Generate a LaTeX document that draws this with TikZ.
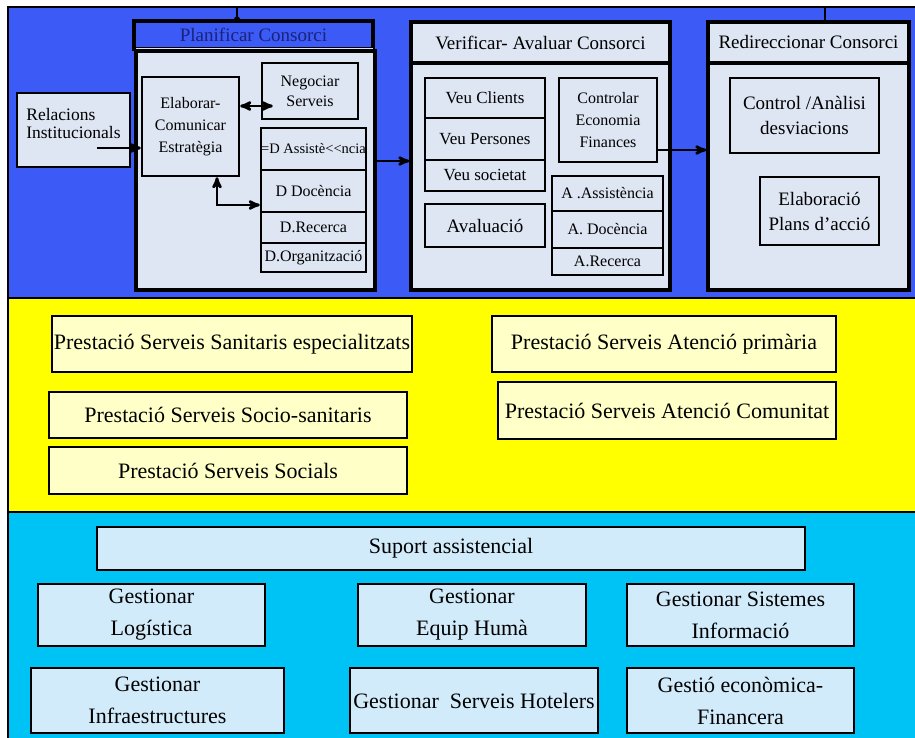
\documentclass[tikz,border=0pt]{standalone}
\usepackage{fontspec}
\setmainfont{Liberation Serif}
\usepackage{xcolor}
\usetikzlibrary{arrows}
\definecolor{fonsblau}{RGB}{60,90,245}
\definecolor{fonsgroc}{RGB}{255,255,0}
\definecolor{fonscel}{RGB}{0,195,245}
\definecolor{caixagris}{RGB}{222,230,243}
\definecolor{caixagroga}{RGB}{255,255,200}
\definecolor{caixacel}{RGB}{210,235,250}
\definecolor{titolblau}{RGB}{25,35,120}

\begin{document}
\begin{tikzpicture}[x=1pt,y=-1pt,>=stealth',
  tbox/.style={draw,fill=caixagris,line width=2.4pt,align=center,inner sep=0pt,font=\fontsize{16}{22}\selectfont},
  marc/.style={draw,fill=caixagris,line width=3.2pt,align=center,inner sep=0pt,font=\fontsize{19}{20}\selectfont},
  ybox/.style={draw,fill=caixagroga,line width=2.6pt,align=center,inner sep=0pt,font=\fontsize{22}{24}\selectfont},
  cbox/.style={draw,fill=caixacel,line width=2.2pt,align=center,inner sep=0pt,font=\fontsize{22}{32}\selectfont},
  fletxa/.style={line width=2.6pt}]
  \useasboundingbox (0,0) rectangle (915,738);
  \fill[white] (0,0) rectangle (915,738);
  \fill[fonsblau] (8,7) rectangle (917,298);
  \fill[fonsgroc] (8,298) rectangle (917,512);
  \fill[fonscel] (8,512) rectangle (917,740);
  \draw[line width=2.4pt] (8,298) -- (917,298);
  \draw[line width=1.2pt] (8,512) -- (917,512);
  \draw[line width=2.4pt] (8,740) |- (917,7);

  \node[marc,fill=fonsblau,text=titolblau,minimum width=239pt,minimum height=28pt] (plantit) at (253.5,35) {Planificar Consorci};
  \fill[caixagris] (136,48) rectangle (373,51);
  \node[marc,minimum width=239pt,minimum height=239pt] (plan) at (255.5,170.5) {};
  \node[marc,minimum width=259pt,minimum height=41pt] (vertit) at (540.5,42.5) {Verificar- Avaluar Consorci};
  \node[marc,minimum width=259pt,minimum height=227pt] (ver) at (540.5,176.5) {};
  \node[marc,minimum width=201pt,minimum height=41pt] (redtit) at (808.5,42.5) {Redireccionar Consorci};
  \node[marc,minimum width=201pt,minimum height=227pt] (red) at (808.5,176.5) {};

  \node[tbox,align=left,font=\fontsize{17.5}{18}\selectfont,text depth=13pt,minimum width=113pt,minimum height=74pt] (rel) at (73.5,130) {Relacions\\Institucionals};
  \node[tbox,minimum width=97pt,minimum height=99pt] (elab) at (190.5,126.5) {Elaborar-\\Comunicar\\Estratègia};
  \node[tbox,font=\fontsize{16}{20}\selectfont,minimum width=96pt,minimum height=56pt] (neg) at (310,91) {Negociar\\Serveis};
  \node[tbox,font=\fontsize{14.5}{20}\selectfont,minimum width=105pt,minimum height=42pt] (dass) at (313.5,149) {=D Assistè<{}<ncia};
  \node[tbox,minimum width=105pt,minimum height=42pt] (ddoc) at (313.5,191) {D Docència};
  \node[tbox,minimum width=105pt,minimum height=31pt] (drec) at (313.5,227.5) {D.Recerca};
  \node[tbox,minimum width=105pt,minimum height=29pt] (dorg) at (313.5,257.5) {D.Organització};

  \node[tbox,font=\fontsize{17}{22}\selectfont,minimum width=120pt,minimum height=40pt] (vcli) at (485,98) {Veu Clients};
  \node[tbox,font=\fontsize{17}{22}\selectfont,minimum width=120pt,minimum height=42pt] (vper) at (485,139) {Veu Persones};
  \node[tbox,font=\fontsize{17}{22}\selectfont,minimum width=120pt,minimum height=31pt] (vsoc) at (485,175.5) {Veu societat};
  \node[tbox,font=\fontsize{19}{22}\selectfont,minimum width=120pt,minimum height=43pt] (aval) at (485,225.5) {Avaluació};
  \node[tbox,minimum width=98pt,minimum height=84pt] (ctrl) at (608,120) {Controlar\\Economia\\Finances};
  \node[tbox,minimum width=111pt,minimum height=35pt] (aass) at (607.5,193.5) {A .Assistència};
  \node[tbox,minimum width=111pt,minimum height=37pt] (adoc) at (607.5,229.5) {A. Docència};
  \node[tbox,minimum width=111pt,minimum height=27pt] (arec) at (607.5,261.5) {A.Recerca};

  \node[tbox,font=\fontsize{19}{25}\selectfont,minimum width=149pt,minimum height=75pt] (cana) at (804.5,115.5) {Control /Anàlisi\\desviacions};
  \node[tbox,font=\fontsize{19}{25}\selectfont,minimum width=119pt,minimum height=68pt] (epla) at (819.5,211) {Elaboració\\Plans d’acció};

  \node[ybox,minimum width=360pt,minimum height=56pt] (pse) at (232,344) {Prestació Serveis Sanitaris especialitzats};
  \node[ybox,minimum width=358pt,minimum height=46pt] (pss) at (228,415) {Prestació Serveis Socio-sanitaris};
  \node[ybox,minimum width=358pt,minimum height=47pt] (pso) at (228,470.5) {Prestació Serveis Socials};
  \node[ybox,minimum width=344pt,minimum height=56pt] (pap) at (664,344) {Prestació Serveis Atenció primària};
  \node[ybox,minimum width=338pt,minimum height=57pt] (pac) at (667,410.5) {Prestació Serveis Atenció Comunitat};

  \node[cbox,minimum width=708pt,minimum height=43pt] (sup) at (451,548.5) {Suport assistencial};
  \node[cbox,minimum width=227pt,minimum height=62pt] (glog) at (151.5,615) {Gestionar\\Logística};
  \node[cbox,minimum width=228pt,minimum height=62pt] (gequ) at (472,615) {Gestionar\\Equip Humà};
  \node[cbox,minimum width=227pt,minimum height=62pt] (gsis) at (740.5,615) {Gestionar Sistemes\\Informació};
  \node[cbox,minimum width=253pt,minimum height=65pt] (ginf) at (157.5,700.5) {Gestionar\\Infraestructures};
  \node[cbox,minimum width=248pt,minimum height=65pt] (ghot) at (474,700.5) {Gestionar\ \ Serveis Hotelers};
  \node[cbox,minimum width=227pt,minimum height=65pt] (geco) at (740.5,700.5) {Gestió econòmica-\\Financera};

  \coordinate (dalt1) at (237,7);
  \coordinate (dalt2) at (825,7);
  \coordinate (relin) at (97,148);
  \draw[line width=2.4pt] (dalt1) -- (dalt1 |- plantit.north);
  \fill (dalt1 |- plantit.north) circle (3pt);
  \draw[line width=2.4pt] (dalt2) -- (dalt2 |- redtit.north);
  \path[fletxa] (relin) edge[->] (relin -| elab.west)
        ([yshift=20.5pt]elab.east) edge[<->,shorten >=-12pt] ([yshift=-15pt]neg.west)
        ([yshift=9.5pt]plan.east) edge[->] ([yshift=15.5pt]ver.west)
        ([yshift=-30pt]ctrl.east) edge[->] ([yshift=26.5pt]red.west);
  \draw[fletxa,<->] ([xshift=26.5pt]elab.south) |- ([yshift=-14pt]ddoc.west);
\end{tikzpicture}
\end{document}
